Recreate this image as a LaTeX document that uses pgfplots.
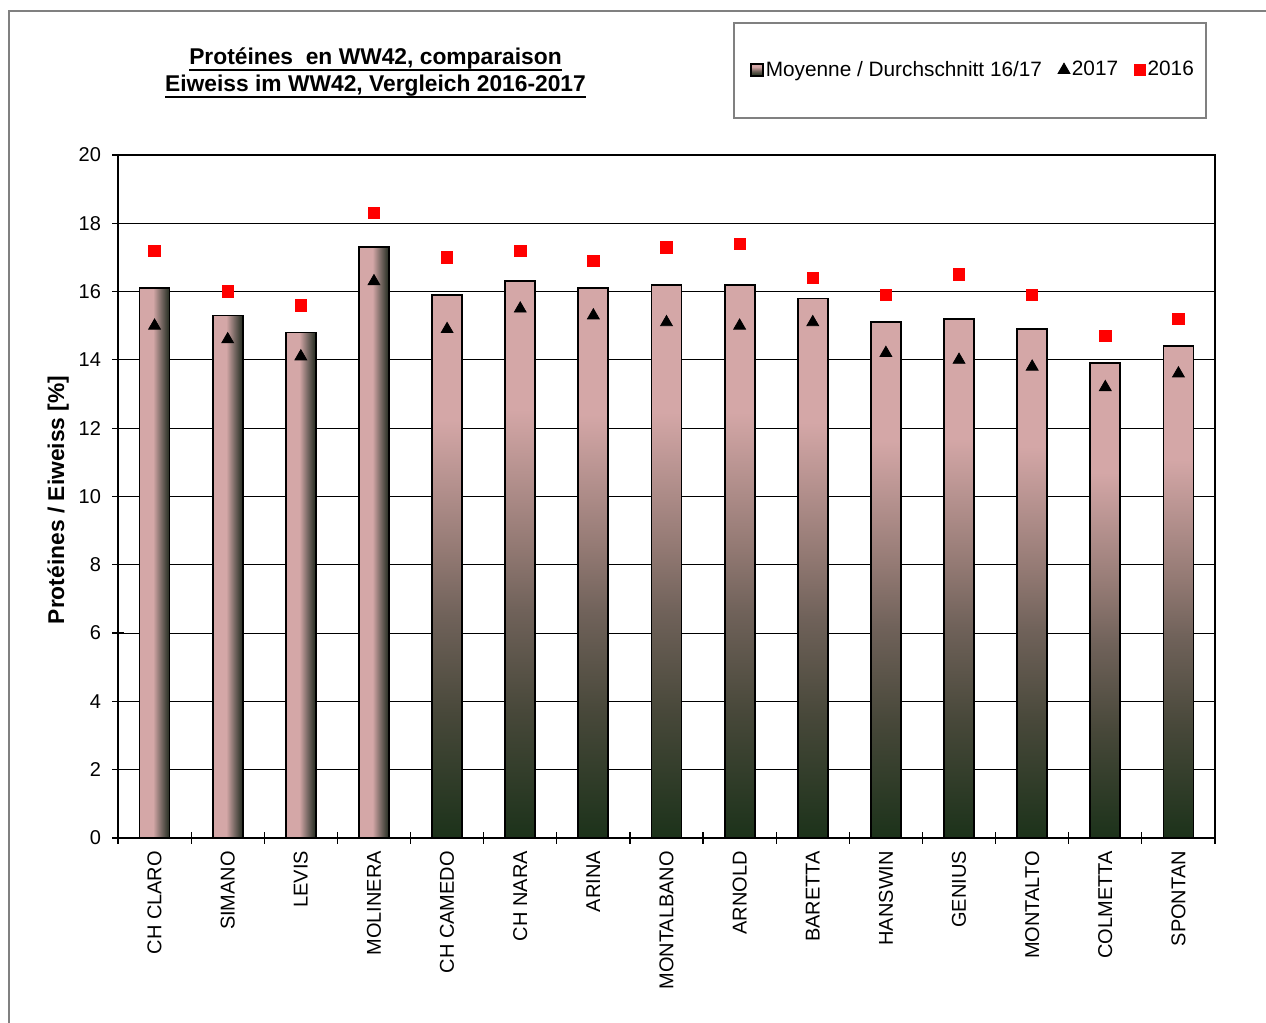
\documentclass[border=0pt]{standalone}
\usepackage{fontspec}
\setmainfont{Liberation Sans}
\usepackage{pgfplots}
\usepackage{pgfplotstable}
\pgfplotsset{compat=1.18}

% bar colours
\definecolor{barpink}{RGB}{212,167,167}
\definecolor{bargreen}{RGB}{28,50,26}
\definecolor{barmidA}{RGB}{72,72,58}
\definecolor{barmidB}{RGB}{112,98,90}
\definecolor{barmidC}{RGB}{148,122,116}
\definecolor{hmid}{RGB}{120,105,100}
\definecolor{hmidB}{RGB}{55,58,48}
\definecolor{hdark}{RGB}{38,48,34}
\definecolor{framegray}{RGB}{128,128,128}

% pink-to-dark-green fill, top to bottom
\pgfdeclareverticalshading{avgvert}{100bp}{color(0bp)=(bargreen); color(25bp)=(bargreen); color(36.5bp)=(barmidA); color(45.5bp)=(barmidB); color(51.5bp)=(barmidC); color(63.5bp)=(barpink); color(100bp)=(barpink)}
% pink-to-dark fill, left to right
\pgfdeclarehorizontalshading{avghorz}{100bp}{color(0bp)=(barpink); color(47.5bp)=(barpink); color(61bp)=(hmid); color(71.5bp)=(hmidB); color(75bp)=(hdark); color(100bp)=(hdark)}

% thick underline for the title
\newsavebox{\ulbox}
\newcommand{\thickul}[1]{\sbox{\ulbox}{#1}\usebox{\ulbox}\llap{\rule[-3.2pt]{\wd\ulbox}{0.9pt}}}

% protein content per variety: mean 16/17, 2017, 2016
\pgfplotstableread{
x  avg   y17   y16
0  16.1  15.0  17.2
1  15.3  14.6  16.0
2  14.8  14.1  15.6
3  17.3  16.3  18.3
4  15.9  14.9  17.0
5  16.3  15.5  17.2
6  16.1  15.3  16.9
7  16.2  15.1  17.3
8  16.2  15.0  17.4
9  15.8  15.1  16.4
10 15.1  14.2  15.9
11 15.2  14.0  16.5
12 14.9  13.8  15.9
13 13.9  13.2  14.7
14 14.4  13.6  15.2
}\proteindata

\begin{document}
\begin{tikzpicture}
\useasboundingbox (0,0) rectangle (633pt,511.5pt);
% chart area frame
\draw[framegray, line width=0.8pt] (4.5pt,-10pt) -- (4.5pt,506pt) -- (650pt,506pt);
% title
\node[align=center, font=\fontsize{11.4}{13.5}\selectfont\bfseries] at (187.75pt,475pt)
  {\thickul{Protéines\ \ en WW42, comparaison}\\\thickul{Eiweiss im WW42, Vergleich 2016-2017}};
% legend frame
\draw[framegray, line width=0.6pt] (367pt,452.5pt) rectangle (603pt,500pt);

\begin{axis}[
  at={(59pt,92.5pt)}, anchor=south west,
  scale only axis, width=548.5pt, height=341.5pt,
  xmin=-0.5, xmax=14.5, ymin=0, ymax=20,
  ytick={0,2,...,20},
  xtick={0,...,14},
  xticklabels={CH CLARO,SIMANO,LEVIS,MOLINERA,CH CAMEDO,CH NARA,ARINA,MONTALBANO,ARNOLD,BARETTA,HANSWIN,GENIUS,MONTALTO,COLMETTA,SPONTAN},
  minor xtick={-0.5,0.5,...,14.5},
  tick align=center, tick pos=left,
  major tick length=6pt, minor tick length=6pt,
  major x tick style={draw=none},
  x tick label style={rotate=90, anchor=east},
  y tick label style={xshift=-2pt},
  ymajorgrids, grid style={black, line width=0.5pt},
  axis line style={black, line width=0.6pt},
  tick style={black, line width=0.6pt},
  ticklabel style={font=\fontsize{10}{12}\selectfont},
  /pgf/number format/assume math mode=true,
  ylabel={Protéines / Eiweiss [\%]},
  ylabel shift=-2pt,
  ylabel style={font=\fontsize{11.4}{13}\selectfont\bfseries, at={(ticklabel cs:0.495)}},
  legend columns=3,
  legend style={at={(0.5761,1.1245)}, anchor=west, draw=none, fill=none,
    inner sep=0pt, font=\fontsize{10.4}{12}\selectfont,
    nodes={inner sep=1pt},
    /tikz/every even column/.append style={column sep=7pt}},
]
% first four varieties: each bar filled left to right
\pgfplotsinvokeforeach{0,...,3}{
  \addplot[ybar, bar width=0.41, bar shift=0pt, draw=black, line width=0.9pt,
    shading=avghorz, restrict x to domain=#1:#1, forget plot]
    table[x=x, y=avg] {\proteindata};
}
% remaining varieties: each bar filled top to bottom
\pgfplotsinvokeforeach{4,...,14}{
  \addplot[ybar, bar width=0.41, bar shift=0pt, draw=black, line width=0.9pt,
    shading=avgvert, restrict x to domain=#1:#1, forget plot]
    table[x=x, y=avg] {\proteindata};
}
\addlegendimage{legend image code/.code={\draw[shading=avgvert, draw=black, line width=0.7pt] (0pt,-3pt) rectangle (6pt,3pt);}}
\addlegendentry{Moyenne / Durchschnitt 16/17}
\addplot[only marks, mark=triangle*, mark size=3.4pt, black,
  legend image code/.code={\draw[black, mark=triangle*, mark size=3.4pt] plot coordinates {(3pt,0pt)};}]
  table[x=x, y=y17] {\proteindata};
\addlegendentry{2017}
\addplot[only marks, mark=square*, mark size=2.85pt, red, draw=red,
  legend image code/.code={\draw[red, mark=square*, mark size=2.85pt] plot coordinates {(3pt,0pt)};}]
  table[x=x, y=y16] {\proteindata};
\addlegendentry{2016}
\end{axis}
\end{tikzpicture}
\end{document}
